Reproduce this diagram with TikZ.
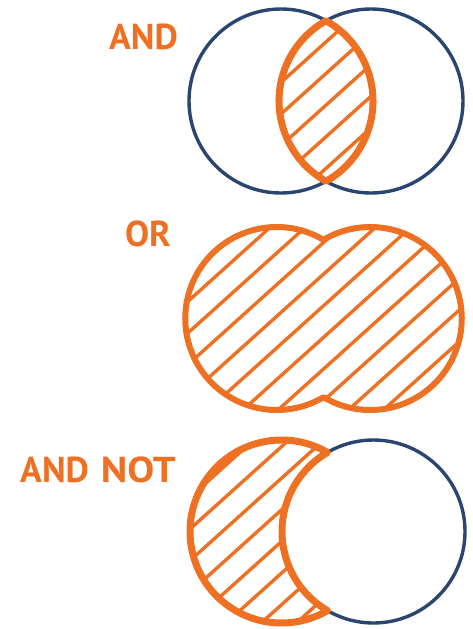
\documentclass[tikz,border=0pt]{standalone}
\usepackage{fontspec}
\newfontfamily\labfont{PT Sans}
\definecolor{vorange}{HTML}{EE7023}
\definecolor{vblue}{HTML}{2A4670}
\tikzset{
  bluering/.style={draw=vblue, line width=3.4pt},
  orangeedge/.style={draw=vorange, line width=7pt, line join=round},
  hatchline/.style={draw=vorange, line width=3.4pt},
  oplabel/.style={text=vorange, font=\labfont\bfseries\fontsize{36}{40}\selectfont, anchor=base east, inner sep=0pt}
}
\newcommand{\hatchat}[1]{%
  \begin{scope}[shift={#1}, rotate=42]
    \foreach \k in {-13,...,13} {\draw[hatchline] (-260,\k*23.5) -- (260,\k*23.5);}
  \end{scope}}
\begin{document}
\begin{tikzpicture}[x=1pt, y=-1pt]
\useasboundingbox (0,0) rectangle (472,629);
% ---------- AND ----------
\node[oplabel] (andlabel) at (178,49) {AND};
\draw[bluering] (281,101) circle[radius=92];
\draw[bluering] (371,101) circle[radius=92];
\begin{scope}
  \clip (326,20.76) arc[start angle=-60.72, end angle=60.72, radius=92]
        arc[start angle=119.28, end angle=240.72, radius=92] -- cycle;
  \hatchat{(287,77)}
\end{scope}
\draw[orangeedge] (326,20.76) arc[start angle=-60.72, end angle=60.72, radius=92]
        arc[start angle=119.28, end angle=240.72, radius=92] -- cycle;
% ---------- OR ----------
\node[oplabel] (orlabel) at (171,246) {OR};
\begin{scope}
  \clip (323.5,239.85) arc[start angle=300.73, end angle=59.27, radius=91.5]
        arc[start angle=120.73, end angle=-120.73, radius=91.5] -- cycle;
  \hatchat{(195,295)}
\end{scope}
\draw[orangeedge, line width=6pt] (323.5,239.85) arc[start angle=300.73, end angle=59.27, radius=91.5]
        arc[start angle=120.73, end angle=-120.73, radius=91.5] -- cycle;
% ---------- AND NOT ----------
\node[oplabel] (andnotlabel) at (176,482) {AND\hspace{12pt}\scalebox{1.12}[1]{NOT}};
\draw[bluering] (373.5,531.5) circle[radius=91.5];
\begin{scope}
  \clip (327.5,452.4) arc[start angle=-59.82, end angle=-300.18, radius=91.5]
        arc[start angle=120.18, end angle=239.82, radius=91.5] -- cycle;
  \hatchat{(200,520)}
\end{scope}
\draw[orangeedge] (327.5,452.4) arc[start angle=-59.82, end angle=-300.18, radius=91.5]
        arc[start angle=120.18, end angle=239.82, radius=91.5] -- cycle;
\end{tikzpicture}
\end{document}
